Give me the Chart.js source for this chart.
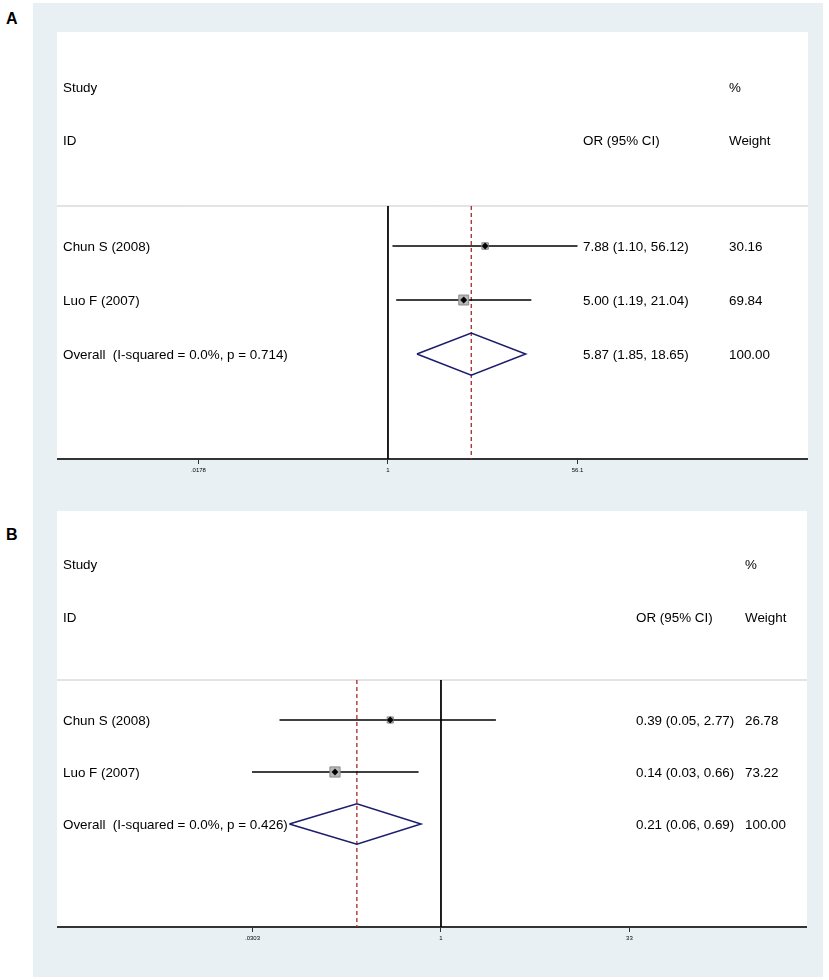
<!DOCTYPE html>
<html lang="en">
<head>
<meta charset="UTF-8">
<title>Forest plots</title>
<script src="https://cdn.jsdelivr.net/npm/chart.js"></script>
<style>
    body { margin: 0; background: #fff; font-family: "Liberation Sans", Arial, sans-serif; }
    .panel-bg { position: absolute; background: #e8f0f3; }
    .panel-white { position: absolute; background: #fff; }
    .letter { position: absolute; left: 6px; font-weight: bold; font-size: 16px; line-height: 16px; }
    canvas { position: absolute; }
</style>
</head>
<body>
<div class="panel-bg" style="left:33px;top:3px;width:790px;height:508px"></div>
<div class="panel-bg" style="left:33px;top:511px;width:790px;height:466px"></div>
<div class="panel-white" style="left:57px;top:32px;width:751px;height:427px"></div>
<div class="panel-white" style="left:57px;top:511px;width:750px;height:416px"></div>
<div class="letter" style="top:11px">A</div>
<div class="letter" style="top:527px">B</div>
<canvas id="chartA" width="751" height="475" style="left:57px;top:32px"></canvas>
<canvas id="chartB" width="750" height="464" style="left:57px;top:511px"></canvas>

<script>
// ---- data, panel A
const studiesA = ['Chun S (2008)', 'Luo F (2007)'];
const orA = [7.88, 5.00];
const loA = [1.10, 1.19];
const hiA = [56.12, 21.04];
const weightA = [30.16, 69.84];
const overallA = [5.87, 1.85, 18.65];   // OR, low, high
const overallLabelA = 'Overall  (I-squared = 0.0%, p = 0.714)';
const tickValsA = [0.0178, 1, 56.1];
const tickLabelsA = ['.0178', '1', '56.1'];

// ---- data, panel B
const studiesB = ['Chun S (2008)', 'Luo F (2007)'];
const orB = [0.39, 0.14];
const loB = [0.05, 0.03];
const hiB = [2.77, 0.66];
const weightB = [26.78, 73.22];
const overallB = [0.21, 0.06, 0.69];
const overallLabelB = 'Overall  (I-squared = 0.0%, p = 0.426)';
const tickValsB = [0.0303, 1, 33];
const tickLabelsB = ['.0303', '1', '33'];

const FONT = '13.4px "Liberation Sans", Arial, sans-serif';

function makeForest(id, d) {
    const rows = d.studies.map((s, i) => i + 1);
    const overRow = d.studies.length + 1;
    const datasets = [];

    // header separator
    datasets.push({
        data: [{ x: d.xmin, y: d.headY }, { x: d.xmax, y: d.headY }],
        showLine: true, borderColor: '#c8c8c8', borderWidth: 1, pointRadius: 0, order: 9
    });
    // null line at 1
    datasets.push({
        data: [{ x: 1, y: d.headY }, { x: 1, y: d.ymax }],
        showLine: true, borderColor: '#000', borderWidth: 1, pointRadius: 0, order: 8
    });
    // overall estimate line
    datasets.push({
        data: [{ x: d.overall[0], y: d.headY }, { x: d.overall[0], y: d.ymax }],
        showLine: true, borderColor: '#a8282a', borderWidth: 1.3, borderDash: [4, 3], pointRadius: 0, order: 7
    });
    // confidence intervals
    rows.forEach((r, i) => {
        datasets.push({
            data: [{ x: d.lo[i], y: r }, { x: d.hi[i], y: r }],
            showLine: true, borderColor: '#000', borderWidth: 1.7, pointRadius: 0, order: 6
        });
    });
    // overall diamond
    const h = 0.39;
    datasets.push({
        data: [
            { x: d.overall[1], y: overRow },
            { x: d.overall[0], y: overRow - h },
            { x: d.overall[2], y: overRow },
            { x: d.overall[0], y: overRow + h },
            { x: d.overall[1], y: overRow }
        ],
        showLine: true, borderColor: '#1c1c6c', borderWidth: 1.5, pointRadius: 0, tension: 0, order: 5
    });
    // weight boxes
    datasets.push({
        data: rows.map((r, i) => ({ x: d.or[i], y: r })),
        pointStyle: 'rect',
        pointRadius: d.weight.map(w => 0.84 * Math.sqrt(w)),
        backgroundColor: '#b8b8b8', borderColor: '#8a8a8a', borderWidth: 1, order: 2
    });
    // point estimates
    datasets.push({
        data: rows.map((r, i) => ({ x: d.or[i], y: r })),
        pointStyle: 'rectRot', pointRadius: 3.2,
        backgroundColor: '#000', borderColor: '#000', borderWidth: 0.5, order: 1
    });

    const textPlugin = {
        id: 'forestText',
        afterDraw(chart) {
            const ctx = chart.ctx;
            const ys = chart.scales.y;
            ctx.save();
            ctx.font = FONT;
            ctx.fillStyle = '#000';
            ctx.textBaseline = 'middle';
            ctx.textAlign = 'left';
            const put = (t, x, row) => ctx.fillText(t, x, ys.getPixelForValue(row) + 1);
            put('Study', d.colName, d.hdr1);
            put('ID', d.colName, d.hdr2);
            put('%', d.colW, d.hdr1);
            put('OR (95% CI)', d.colOR, d.hdr2);
            put('Weight', d.colW, d.hdr2);
            d.studies.forEach((s, i) => {
                put(s, d.colName, rows[i]);
                put(d.or[i].toFixed(2) + ' (' + d.lo[i].toFixed(2) + ', ' + d.hi[i].toFixed(2) + ')', d.colOR, rows[i]);
                put(d.weight[i].toFixed(2), d.colW, rows[i]);
            });
            put(d.overallLabel, d.colName, overRow);
            put(d.overall[0].toFixed(2) + ' (' + d.overall[1].toFixed(2) + ', ' + d.overall[2].toFixed(2) + ')', d.colOR, overRow);
            put('100.00', d.colW, overRow);
            ctx.restore();
        }
    };

    return new Chart(document.getElementById(id), {
        type: 'scatter',
        data: { datasets },
        options: {
            responsive: false,
            animation: false,
            layout: { padding: 0, autoPadding: false },
            plugins: { legend: { display: false }, tooltip: { enabled: false } },
            scales: {
                x: {
                    type: 'logarithmic',
                    min: d.xmin, max: d.xmax,
                    afterBuildTicks: (s) => { s.ticks = d.tickVals.map(v => ({ value: v })); },
                    afterFit: (s) => { s.height = 48; },
                    ticks: {
                        autoSkip: false, maxRotation: 0, padding: 3,
                        color: '#000', font: { size: 6, family: 'Liberation Sans, Arial' },
                        callback: (v, i) => d.tickLabels[i]
                    },
                    grid: { drawOnChartArea: false, drawTicks: true, tickLength: 5, color: '#333' },
                    border: { display: true, color: '#333', width: 2 }
                },
                y: {
                    type: 'linear', reverse: true,
                    min: d.ymin, max: d.ymax, display: false
                }
            }
        },
        plugins: [textPlugin]
    });
}

makeForest('chartA', {
    studies: studiesA, or: orA, lo: loA, hi: hiA, weight: weightA,
    overall: overallA, overallLabel: overallLabelA,
    tickVals: tickValsA, tickLabels: tickLabelsA,
    xmin: 0.000882, xmax: 7520,
    ymin: -2.963, ymax: 4.944, headY: 0.259, hdr1: -1.944, hdr2: -0.963,
    colName: 6, colOR: 526, colW: 672
});

makeForest('chartB', {
    studies: studiesB, or: orB, lo: loB, hi: hiB, weight: weightB,
    overall: overallB, overallLabel: overallLabelB,
    tickVals: tickValsB, tickLabels: tickLabelsB,
    xmin: 0.000806, xmax: 889,
    ymin: -3.019, ymax: 4.981, headY: 0.231, hdr1: -2.0, hdr2: -0.98,
    colName: 6, colOR: 579, colW: 688
});
</script>
</body>
</html>
